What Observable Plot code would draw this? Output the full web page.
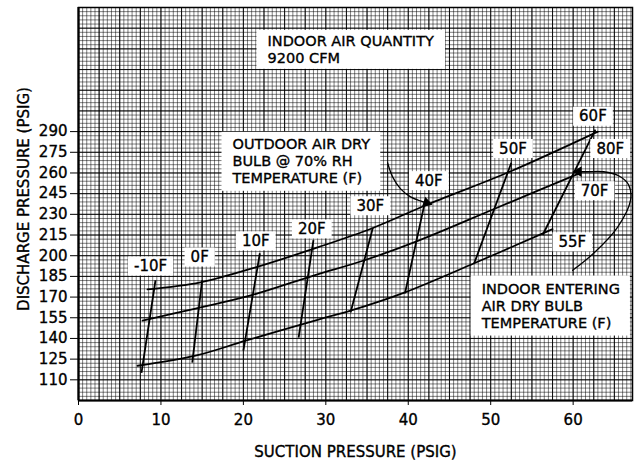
<!DOCTYPE html>
<html><head><meta charset="utf-8">
<script src="https://cdn.jsdelivr.net/npm/d3@7"></script>
<script src="https://cdn.jsdelivr.net/npm/@observablehq/plot@0.6"></script>
<style>
html,body{margin:0;padding:0;background:#fff;}
#chart svg text{stroke:#000;stroke-width:0.35px;}
</style>
</head><body><div id="chart"></div>
<script>
// ---- data (suction psig, discharge psig) ----
const xTicks = [0, 10, 20, 30, 40, 50, 60];
const yTicks = [110, 125, 140, 155, 170, 185, 200, 215, 230, 245, 260, 275, 290];

// indoor entering air dry bulb curves
const indoor80 = [[8.37,175.6],[14.8,180.7],[21.5,191.6],[29.1,206.2],[35.7,220.1],[42.2,236.8],[52.3,260.9],[63.0,290.0]];
const indoor70 = [[7.77,153.0],[14.2,161.7],[20.9,171.2],[28.6,185.8],[34.7,196.7],[41.4,211.3],[50.7,234.6],[60.9,260.1]];
const indoor55 = [[7.16,120.2],[14.2,127.5],[20.3,138.4],[29.1,153.7],[33.1,160.3],[39.6,173.4],[48.0,194.5],[56.4,216.4],[57.5,219.3]];

// outdoor air dry bulb lines (lower end, upper end)
const outdoorTemps = ["-10F", "0F", "10F", "20F", "30F", "40F", "50F", "60F"];
const outdoorLow  = [[7.64,115.1],[13.8,122.4],[20.0,131.1],[26.7,140.6],[33.0,158.8],[39.6,172.7],[48.0,194.5],[56.3,215.0]];
const outdoorHigh = [[9.34,182.2],[15.0,182.2],[22.0,201.8],[28.5,211.3],[35.7,220.1],[42.0,238.3],[52.5,267.4],[62.7,291.5]];

// annotation positions
const outdoorLabelX = [8.74, 14.7, 21.5, 28.3, 35.4, 42.5, 52.7, 62.4];
const outdoorLabelY = [192.4, 198.9, 210.6, 219.3, 236.1, 254.3, 277.6, 301.0];
const indoorTemps = ["80F", "70F", "55F"];
const indoorLabelX = [64.5, 62.6, 59.9];
const indoorLabelY = [277.6, 247.0, 209.9];
const noteTexts = ["INDOOR AIR QUANTITY\n9200 CFM", "OUTDOOR AIR DRY\nBULB @ 70% RH\nTEMPERATURE (F)", "INDOOR ENTERING\nAIR DRY BULB\nTEMPERATURE (F)"];
const noteX = [22.93, 18.68, 48.9];
const noteY = [349.4, 268.2, 163.6];
const leaderOutdoor = [[37.49,267.4],[38.10,257.2],[39.07,248.5],[40.28,242.7],[41.49,239.7],[42.22,238.3]];
const leaderIndoor = [[59.94,189.4],[62.49,201.8],[65.40,220.8],[66.97,240.5],[66.73,251.4],[65.52,258.0],[63.70,260.9],[61.64,260.9],[60.66,260.9]];

const xTitle = "SUCTION PRESSURE (PSIG)";
const yTitle = "DISCHARGE PRESSURE (PSIG)";

// ---- build tables ----
const outdoorSegs = outdoorTemps.map((t, i) => ({t, x1: outdoorLow[i][0], y1: outdoorLow[i][1], x2: outdoorHigh[i][0], y2: outdoorHigh[i][1]}));
const outdoorLabels = outdoorTemps.map((t, i) => ({t, x: outdoorLabelX[i], y: outdoorLabelY[i]}));
const indoorLabels = indoorTemps.map((t, i) => ({t, x: indoorLabelX[i], y: indoorLabelY[i]}));
const heads = [
  {x: leaderOutdoor[leaderOutdoor.length - 1][0], y: leaderOutdoor[leaderOutdoor.length - 1][1], r: 108},
  {x: leaderIndoor[leaderIndoor.length - 1][0], y: leaderIndoor[leaderIndoor.length - 1][1], r: 270}
];

const lineGap = 17;
const noteSize = 14.5;
const noteMarks = [];
noteTexts.forEach((txt, k) => {
  const lines = txt.split("\n");
  lines.forEach((line, i) => {
    noteMarks.push(Plot.text([{t: line, x: noteX[k], y: noteY[k]}], {
      x: "x", y: "y", text: "t", textAnchor: "start", fontSize: noteSize, fill: "#000",
      dy: (i - (lines.length - 1) / 2) * lineGap, ariaDescription: "note" + k
    }));
  });
});

const xMax = 67.2, yMin = 95, yMax = 380;
const xFine = d3.range(0, xMax, 0.5);
const xHeavy = d3.range(0, xMax, 2.5);
const yFine = d3.range(yMin, yMax + 0.1, 3);
const yHeavy = d3.range(yMin, yMax + 0.1, 15);

const font = "DejaVu Sans";
const chart = Plot.plot({
  width: 634, height: 462,
  marginLeft: 78, marginRight: 2, marginTop: 7, marginBottom: 62,
  style: {fontFamily: font, fontSize: "15px", color: "#000", background: "#fff", overflow: "visible"},
  x: {domain: [0, xMax], ticks: xTicks, tickSize: 5, tickPadding: 9, label: null},
  y: {domain: [yMin, yMax], ticks: yTicks, tickSize: 8, tickPadding: 3, label: null},
  marks: [
    Plot.ruleX(xFine, {stroke: "#000", strokeOpacity: 0.5}),
    Plot.ruleY(yFine, {stroke: "#000", strokeOpacity: 0.5}),
    Plot.ruleX(xHeavy, {stroke: "#000", strokeOpacity: 0.9}),
    Plot.ruleY(yHeavy, {stroke: "#000", strokeOpacity: 0.9}),
    Plot.frame({stroke: "#000", strokeWidth: 1.5}),
    Plot.ruleX([0], {stroke: "#000", strokeWidth: 2.2}),
    Plot.ruleY([yMin], {stroke: "#000", strokeWidth: 2.2}),
    Plot.line(indoor80, {curve: "catmull-rom", stroke: "#000", strokeWidth: 1.8}),
    Plot.line(indoor70, {curve: "catmull-rom", stroke: "#000", strokeWidth: 1.8}),
    Plot.line(indoor55, {curve: "catmull-rom", stroke: "#000", strokeWidth: 1.8}),
    Plot.link(outdoorSegs, {x1: "x1", y1: "y1", x2: "x2", y2: "y2", stroke: "#000", strokeWidth: 1.8}),
    Plot.line(leaderOutdoor, {curve: "catmull-rom", stroke: "#000", strokeWidth: 1.3}),
    Plot.line(leaderIndoor, {curve: "catmull-rom", stroke: "#000", strokeWidth: 1.3}),
    Plot.dot(heads, {x: "x", y: "y", rotate: "r", symbol: "triangle", r: 4, fill: "#000", stroke: "none"}),
    Plot.text(outdoorLabels, {x: "x", y: "y", text: "t", fontSize: 15, fill: "#000", ariaDescription: "box1"}),
    Plot.text(indoorLabels, {x: "x", y: "y", text: "t", fontSize: 15, fill: "#000", ariaDescription: "box1"}),
    ...noteMarks,
    Plot.text([yTitle], {frameAnchor: "left", textAnchor: "middle", lineAnchor: "middle", rotate: -90, dx: -54, dy: -5, fontSize: 15, fill: "#000"}),
    Plot.text([xTitle], {frameAnchor: "bottom", textAnchor: "middle", lineAnchor: "middle", dy: 52, fontSize: 15, fill: "#000"})
  ]
});
document.getElementById("chart").append(chart);

const SVGNS = "http://www.w3.org/2000/svg";
function boxify(desc, px, py) {
  chart.querySelectorAll(`g[aria-description="${desc}"] text`).forEach(t => {
    const b = t.getBBox();
    const r = document.createElementNS(SVGNS, "rect");
    r.setAttribute("x", b.x - px);
    r.setAttribute("y", b.y - py);
    r.setAttribute("width", b.width + 2 * px);
    r.setAttribute("height", b.height + 2 * py);
    r.setAttribute("fill", "#fff");
    r.setAttribute("stroke", "none");
    const tr = t.getAttribute("transform");
    if (tr) r.setAttribute("transform", tr);
    t.parentNode.insertBefore(r, t);
  });
}
function boxGroup(desc, px, py) {
  const groups = [...chart.querySelectorAll(`g[aria-description="${desc}"]`)];
  if (!groups.length) return;
  const s = chart.getBoundingClientRect();
  let x0 = Infinity, y0 = Infinity, x1 = -Infinity, y1 = -Infinity;
  groups.forEach(g => g.querySelectorAll("text").forEach(t => {
    const r = t.getBoundingClientRect();
    x0 = Math.min(x0, r.left); y0 = Math.min(y0, r.top);
    x1 = Math.max(x1, r.right); y1 = Math.max(y1, r.bottom);
  }));
  const rect = document.createElementNS(SVGNS, "rect");
  rect.setAttribute("x", x0 - s.left - px);
  rect.setAttribute("y", y0 - s.top - py);
  rect.setAttribute("width", x1 - x0 + 2 * px);
  rect.setAttribute("height", y1 - y0 + 2 * py);
  rect.setAttribute("fill", "#fff");
  groups[0].parentNode.insertBefore(rect, groups[0]);
}
boxify("box1", 6, 0.5);
boxGroup("note0", 11, 3);
boxGroup("note1", 10, 4.5);
boxGroup("note2", 10, 5);
</script>
</body></html>
